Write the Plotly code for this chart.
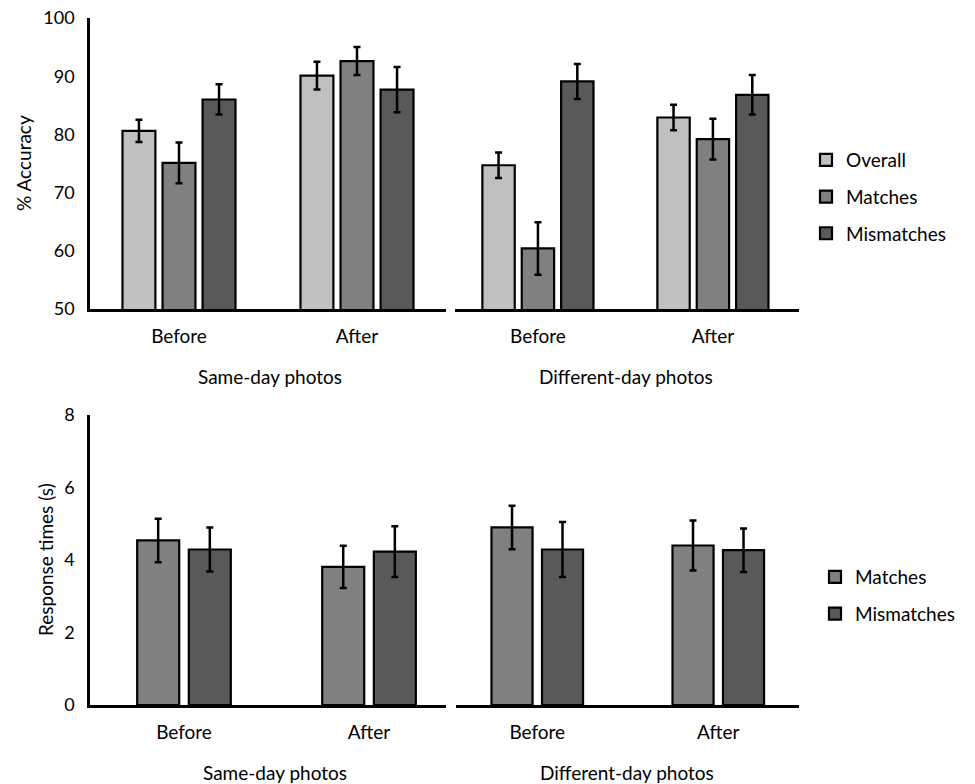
import plotly.graph_objects as go

# ---------------- data ----------------
periods = ["Before", "After"]
groups = ["Same-day photos", "Different-day photos"]

acc_series = ["Overall", "Matches", "Mismatches"]
acc_same = {"Overall": [80.6, 90.1], "Matches": [75.1, 92.6], "Mismatches": [86.0, 87.7]}
acc_same_err = {"Overall": [1.9, 2.4], "Matches": [3.5, 2.4], "Mismatches": [2.6, 3.9]}
acc_diff = {"Overall": [74.7, 82.9], "Matches": [60.4, 79.2], "Mismatches": [89.1, 86.8]}
acc_diff_err = {"Overall": [2.2, 2.2], "Matches": [4.5, 3.5], "Mismatches": [3.0, 3.4]}

rt_series = ["Matches", "Mismatches"]
rt_same = {"Matches": [4.54, 3.81], "Mismatches": [4.29, 4.23]}
rt_same_err = {"Matches": [0.60, 0.58], "Mismatches": [0.61, 0.70]}
rt_diff = {"Matches": [4.90, 4.40], "Mismatches": [4.29, 4.27]}
rt_diff_err = {"Matches": [0.60, 0.69], "Mismatches": [0.76, 0.60]}

acc_ticks = [50, 60, 70, 80, 90, 100]
rt_ticks = [0, 2, 4, 6, 8]
acc_title = "% Accuracy"
rt_title = "Response times (s)"

# ---------------- style ----------------
colors = {"Overall": "#c0c0c0", "Matches": "#808080", "Mismatches": "#595959"}
FONT = "Lato, Carlito, 'Open Sans', sans-serif"
W, H = 975, 784


def px(xs):  # screen x -> paper fraction
    return xs / W


def py(ys):  # screen y -> paper fraction
    return 1 - ys / H


acc_width = 0.185
acc_step = 0.225
acc_offsets = {"Overall": -acc_step - acc_width / 2,
               "Matches": -acc_width / 2,
               "Mismatches": acc_step - acc_width / 2}
rt_width = 0.227
rt_step = 0.279
rt_offsets = {"Matches": -rt_step / 2 - rt_width / 2,
              "Mismatches": rt_step / 2 - rt_width / 2}

fig = go.Figure()


def add_bar(name, x, y, err, xaxis, yaxis, offset, width, legend, show):
    fig.add_trace(go.Bar(
        name=name, x=x, y=y, xaxis=xaxis, yaxis=yaxis,
        offset=offset, width=width,
        marker=dict(color=colors[name], line=dict(color="black", width=2.2)),
        error_y=dict(type="data", array=err, color="black", thickness=2.5, width=3.5),
        legend=legend, legendgroup=legend + name, showlegend=show,
    ))


for s in acc_series:
    add_bar(s, periods, acc_same[s], acc_same_err[s], "x", "y", acc_offsets[s], acc_width, "legend", True)
    add_bar(s, periods, acc_diff[s], acc_diff_err[s], "x2", "y", acc_offsets[s], acc_width, "legend", False)
for s in rt_series:
    add_bar(s, periods, rt_same[s], rt_same_err[s], "x3", "y2", rt_offsets[s], rt_width, "legend2", True)
    add_bar(s, periods, rt_diff[s], rt_diff_err[s], "x4", "y2", rt_offsets[s], rt_width, "legend2", False)

ytickfont = dict(family=FONT, size=18, color="black")
xtickfont = dict(family=FONT, size=19, color="black")
titlefont = dict(family=FONT, size=19, color="black")


def xax(domain, anchor, rng):
    return dict(domain=domain, anchor=anchor, showline=True, linecolor="black", linewidth=2.5,
                showgrid=False, zeroline=False, ticks="", tickfont=xtickfont,
                ticklabelstandoff=8, automargin=False, range=rng,
                ticklabeloverflow="allow", fixedrange=True)


def yax(domain, anchor, rng, ticks):
    return dict(domain=domain, anchor=anchor, showline=True, linecolor="black", linewidth=2.5,
                showgrid=False, zeroline=False, ticks="", tickfont=ytickfont,
                tickvals=ticks, range=rng, ticklabelstandoff=9, automargin=False,
                ticklabeloverflow="allow", fixedrange=True)


def label(text, xs, ys, angle=0):
    return dict(text=text, x=px(xs), y=py(ys), xref="paper", yref="paper",
                showarrow=False, textangle=angle, font=titlefont,
                xanchor="center", yanchor="middle")


fig.update_layout(
    width=W, height=H,
    margin=dict(l=0, r=0, t=0, b=0),
    paper_bgcolor="white", plot_bgcolor="white",
    barmode="overlay",
    font=dict(family=FONT, color="black"),
    xaxis=xax([px(90), px(446)], "y", [-0.5, 1.5]),
    xaxis2=xax([px(455), px(799)], "y", [-0.474, 1.492]),
    yaxis=yax([py(309), py(18)], "x", [50, 100], acc_ticks),
    xaxis3=xax([px(90), px(446)], "y2", [-0.508, 1.416]),
    xaxis4=xax([px(456), px(799)], "y2", [-0.449, 1.446]),
    yaxis2=yax([py(705), py(415)], "x3", [0, 8], rt_ticks),
    legend=dict(x=px(806), xanchor="left", y=py(141), yanchor="top",
                font=dict(family=FONT, size=19, color="black"),
                tracegroupgap=9, bgcolor="rgba(0,0,0,0)"),
    legend2=dict(x=px(815), xanchor="left", y=py(558), yanchor="top",
                 font=dict(family=FONT, size=19, color="black"),
                 tracegroupgap=9, bgcolor="rgba(0,0,0,0)"),
    showlegend=True,
    annotations=[
        label(acc_title, 23, 163, -90),
        label(rt_title, 45, 560, -90),
        label(groups[0], 270, 376),
        label(groups[1], 626, 376),
        label(groups[0], 275, 772),
        label(groups[1], 627, 772),
    ],
)

fig.write_html("out.html", config={"displayModeBar": False},
               post_script="document.body.style.margin='0px';")
